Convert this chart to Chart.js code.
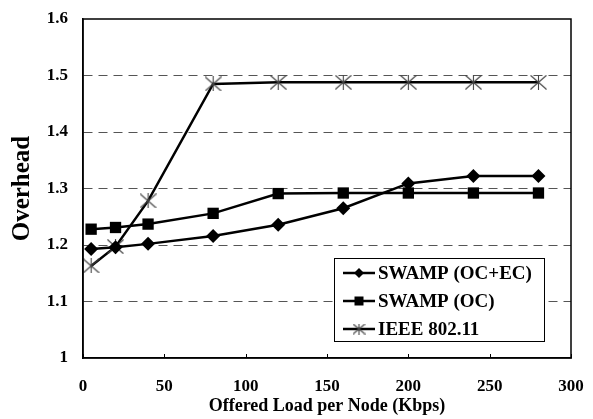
<!DOCTYPE html>
<html>
<head>
<meta charset="utf-8">
<script src="https://cdn.jsdelivr.net/npm/chart.js@4/dist/chart.umd.min.js"></script>
<style>
  html, body { margin: 0; padding: 0; background: #fff; overflow: hidden; }
  #wrap { width: 593px; height: 419px; overflow: hidden; }
  canvas { display: block; }
</style>
</head>
<body>
<div id="wrap"><canvas id="overheadChart" width="593" height="419"></canvas></div>
<script>
/* data */
const loads = [5, 20, 40, 80, 120, 160, 200, 240, 280];
const swampOcEc = [1.193, 1.196, 1.202, 1.216, 1.236, 1.265, 1.309, 1.322, 1.322];
const swampOc = [1.228, 1.231, 1.237, 1.256, 1.291, 1.292, 1.292, 1.292, 1.292];
const ieee80211 = [1.163, 1.197, 1.278, 1.485, 1.488, 1.488, 1.488, 1.488, 1.488];
const seriesNames = ["SWAMP (OC+EC)", "SWAMP (OC)", "IEEE 802.11"];
const xTicks = [0, 50, 100, 150, 200, 250, 300];
const yTicks = [1, 1.1, 1.2, 1.3, 1.4, 1.5, 1.6];

const serif = "'Liberation Serif', 'Times New Roman', serif";

function makeStar(w, h) {
    const c = document.createElement("canvas");
    c.width = w;
    c.height = h;
    const g = c.getContext("2d");
    g.strokeStyle = "#444";
    g.lineWidth = 1.1;
    g.beginPath();
    g.moveTo(0.5, 0.5); g.lineTo(w - 0.5, h - 0.5);
    g.moveTo(w - 0.5, 0.5); g.lineTo(0.5, h - 0.5);
    g.moveTo(w / 2, 0); g.lineTo(w / 2, h);
    g.stroke();
    return c;
}

const starBig = makeStar(17, 15);
const starSmall = makeStar(13, 11);

const toPoints = ys => ys.map((y, i) => ({ x: loads[i], y: y }));

/* Frame, inward x ticks and legend box inside the plot */
const framePlugin = {
    id: "frame",
    afterDraw(chart) {
        const ctx = chart.ctx;
        const a = chart.chartArea;
        const xs = chart.scales.x;

        ctx.save();
        ctx.strokeStyle = "#000";
        ctx.lineWidth = 1.5;
        ctx.strokeRect(a.left, a.top, a.right - a.left, a.bottom - a.top);

        ctx.lineWidth = 1;
        ctx.beginPath();
        xTicks.forEach(v => {
            const px = Math.round(xs.getPixelForValue(v)) + 0.5;
            ctx.moveTo(px, a.bottom);
            ctx.lineTo(px, a.bottom - 4);
        });
        ctx.stroke();

        // legend
        const bw = 210, bh = 83;
        const bx = a.right - 27 - bw;
        const by = a.bottom - 17 - bh;
        ctx.fillStyle = "#fff";
        ctx.fillRect(bx, by, bw, bh);
        ctx.strokeStyle = "#000";
        ctx.lineWidth = 1;
        ctx.strokeRect(bx + 0.5, by + 0.5, bw, bh);

        ctx.font = "bold 19px " + serif;
        ctx.textBaseline = "middle";
        ctx.textAlign = "left";

        seriesNames.forEach((name, i) => {
            const cy = by + 15 + i * 28;
            const lx = bx + 9;
            const mx = lx + 16;
            ctx.strokeStyle = "#000";
            ctx.lineWidth = 2.5;
            ctx.beginPath();
            ctx.moveTo(lx, cy);
            ctx.lineTo(lx + 32, cy);
            ctx.stroke();

            ctx.fillStyle = "#000";
            if (i === 0) {
                ctx.beginPath();
                ctx.moveTo(mx, cy - 5);
                ctx.lineTo(mx + 5, cy);
                ctx.lineTo(mx, cy + 5);
                ctx.lineTo(mx - 5, cy);
                ctx.closePath();
                ctx.fill();
            } else if (i === 1) {
                ctx.fillRect(mx - 4.5, cy - 4.5, 9, 9);
            } else {
                ctx.drawImage(starSmall, mx - starSmall.width / 2, cy - starSmall.height / 2);
            }

            ctx.fillStyle = "#000";
            ctx.fillText(name, lx + 35, cy + 1);
        });
        ctx.restore();
    }
};

new Chart(document.getElementById("overheadChart"), {
    type: "line",
    data: {
        datasets: [
            {
                label: seriesNames[0],
                data: toPoints(swampOcEc),
                borderColor: "#000",
                backgroundColor: "#000",
                borderWidth: 2.5,
                pointStyle: "rectRot",
                pointRadius: 7,
                pointBorderWidth: 0,
                tension: 0
            },
            {
                label: seriesNames[1],
                data: toPoints(swampOc),
                borderColor: "#000",
                backgroundColor: "#000",
                borderWidth: 2.5,
                pointStyle: "rect",
                pointRadius: 8,
                pointBorderWidth: 0,
                tension: 0
            },
            {
                label: seriesNames[2],
                data: toPoints(ieee80211),
                borderColor: "#000",
                backgroundColor: "#000",
                borderWidth: 2.5,
                pointStyle: starBig,
                pointRadius: 8,
                tension: 0
            }
        ]
    },
    options: {
        responsive: false,
        animation: false,
        events: [],
        layout: {
            autoPadding: false,
            padding: { left: 0, top: 19, right: 22, bottom: 0 }
        },
        plugins: {
            legend: { display: false },
            tooltip: { enabled: false }
        },
        scales: {
            x: {
                type: "linear",
                min: 0,
                max: 300,
                afterBuildTicks: scale => {
                    scale.ticks = xTicks.map(v => ({ value: v }));
                },
                afterFit: scale => { scale.height = 61; },
                grid: {
                    display: true,
                    drawOnChartArea: false,
                    drawTicks: true,
                    tickLength: 18,
                    tickColor: "rgba(0,0,0,0)"
                },
                border: { display: true, color: "#000", width: 1.5 },
                ticks: {
                    color: "#000",
                    padding: 0,
                    maxRotation: 0,
                    font: { family: serif, size: 17, weight: "bold" }
                },
                title: {
                    display: true,
                    text: "Offered Load per Node (Kbps)",
                    color: "#000",
                    padding: { top: 0, bottom: 2 },
                    font: { family: serif, size: 18, weight: "bold" }
                }
            },
            y: {
                min: 1,
                max: 1.6,
                afterBuildTicks: scale => {
                    scale.ticks = yTicks.map(v => ({ value: v }));
                },
                afterFit: scale => { scale.width = 83; },
                grid: {
                    drawTicks: true,
                    tickLength: 15,
                    tickColor: "rgba(0,0,0,0)",
                    lineWidth: 1,
                    color: ctx => (ctx.tick && (ctx.tick.value === 1 || ctx.tick.value === 1.6)) ? "rgba(0,0,0,0)" : "#555"
                },
                border: { display: true, color: "#000", width: 1.5, dash: [9, 6] },
                ticks: {
                    color: "#000",
                    padding: 0,
                    font: { family: serif, size: 17, weight: "bold" },
                    callback: v => String(Math.round(v * 10) / 10)
                },
                title: {
                    display: true,
                    text: "Overhead",
                    color: "#000",
                    padding: { top: 8, bottom: 0 },
                    font: { family: serif, size: 25, weight: "bold" }
                }
            }
        }
    },
    plugins: [framePlugin]
});
</script>
</body>
</html>
